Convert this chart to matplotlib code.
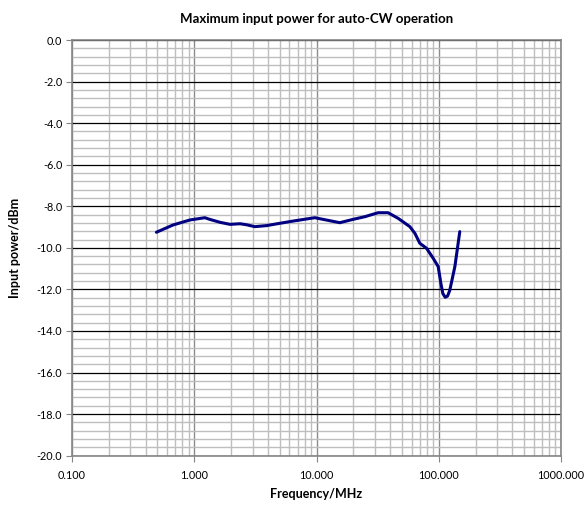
import matplotlib
matplotlib.use("Agg")
import matplotlib.pyplot as plt
from matplotlib.ticker import FixedLocator, FuncFormatter, NullFormatter
import numpy as np

plt.rcParams["font.family"] = ["Lato", "DejaVu Sans"]

# Values
freq_mhz = [0.49, 0.67, 0.92, 1.22, 1.34, 1.62, 1.96, 2.37, 2.68, 3.13, 3.91, 5.0,
            6.46, 8.3, 9.7, 12.0, 15.5, 19.9, 24.9, 31.9, 38.5, 46.5, 58.0, 63.8,
            70.0, 79.4, 90.0, 98.9, 104.0, 108.0, 113.0, 118.0, 123.0, 135.5, 148.6]
power_dbm = [-9.25, -8.90, -8.66, -8.55, -8.63, -8.77, -8.87, -8.84, -8.89, -8.98, -8.93, -8.82,
             -8.71, -8.61, -8.55, -8.66, -8.79, -8.63, -8.50, -8.31, -8.31, -8.58, -8.98, -9.30,
             -9.78, -10.02, -10.50, -10.90, -11.70, -12.20, -12.38, -12.32, -12.05, -10.90, -9.22]

x_ticks = [0.1, 1, 10, 100, 1000]
y_ticks = list(np.arange(-20, 0.1, 2))

fig = plt.figure(figsize=(5.87, 5.07), dpi=100)
ax = fig.add_axes([0.1227, 0.1012, 0.8330, 0.8199])

ax.set_xscale("log")
ax.set_xlim(0.1, 1000)
ax.set_ylim(-20, 0)

ax.xaxis.set_major_locator(FixedLocator(x_ticks))
ax.xaxis.set_minor_locator(FixedLocator([m * d for d in x_ticks[:-1] for m in range(2, 10)]))
ax.xaxis.set_major_formatter(FuncFormatter(lambda v, p: f"{v:.3f}"))
ax.xaxis.set_minor_formatter(NullFormatter())
ax.yaxis.set_major_locator(FixedLocator(y_ticks))
ax.yaxis.set_minor_locator(FixedLocator(list(np.arange(-20, 0.01, 0.4))))
ax.yaxis.set_major_formatter(FuncFormatter(lambda v, p: f"{v:.1f}".replace("\u2212", "-")))

ax.grid(True, which="minor", axis="both", color="#bebebe", linewidth=1.0)
ax.grid(True, which="major", axis="x", color="#8c8c8c", linewidth=1.0)
ax.grid(True, which="major", axis="y", color="#000000", linewidth=0.9)
ax.set_axisbelow(True)

for side in ax.spines.values():
    side.set_color("#868686")
    side.set_linewidth(1.2)

ax.tick_params(which="major", direction="out", length=4, color="#868686", labelsize=7.8, pad=3)
ax.tick_params(which="minor", length=0)
ax.tick_params(axis="x", pad=6)

ax.plot(freq_mhz, power_dbm, color="#000080", linewidth=2.2, solid_joinstyle="round", solid_capstyle="round")

ax.set_title("Maximum input power for auto-CW operation", fontsize=9.5, fontweight="bold", pad=12)
ax.set_xlabel("Frequency/MHz", fontsize=9, fontweight="bold", va="center")
ax.set_ylabel("Input power/dBm", fontsize=9, fontweight="bold", va="center")
ax.xaxis.set_label_coords(0.5, -0.091)
ax.yaxis.set_label_coords(-0.117, 0.5)

fig.savefig("out.png", dpi=100)
